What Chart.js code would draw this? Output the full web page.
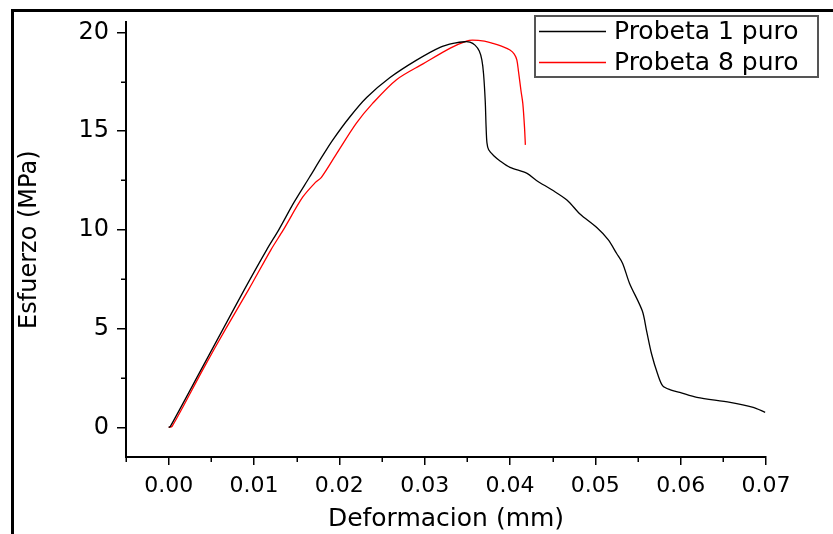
<!DOCTYPE html>
<html>
<head>
<meta charset="utf-8">
<script src="https://cdn.jsdelivr.net/npm/chart.js@4/dist/chart.umd.min.js"></script>
<style>
  html, body { margin: 0; padding: 0; background: #fff; }
  canvas { display: block; }
</style>
</head>
<body>
<canvas id="c" width="833" height="534"></canvas>
<script>
// Stress–strain curves for the two specimens
const seriesNames = ['Probeta 1 puro', 'Probeta 8 puro'];
const seriesColors = ['#000000', '#ff0000'];

const probeta1Def = [0, 0.0002, 0.0039, 0.0064, 0.0089, 0.0115, 0.0129, 0.0147, 0.0165, 0.0179, 0.0192, 0.0212, 0.0232, 0.0259, 0.0290, 0.0318, 0.0335, 0.0347, 0.0353, 0.0359, 0.0364, 0.0367, 0.0369, 0.0371, 0.0372, 0.0373, 0.0375, 0.0381, 0.0388, 0.0400, 0.0420, 0.0431, 0.0450, 0.0467, 0.0482, 0.0502, 0.0515, 0.0525, 0.0532, 0.0540, 0.0555, 0.0560, 0.0566, 0.0573, 0.0579, 0.0588, 0.0599, 0.0619, 0.0658, 0.0685, 0.0699];
const probeta1Esf = [0, 0.05, 3.0, 5.0, 7.0, 9.0, 10.0, 11.4, 12.66, 13.65, 14.53, 15.7, 16.7, 17.7, 18.58, 19.24, 19.45, 19.52, 19.5, 19.35, 19.05, 18.6, 17.9, 16.5, 15.2, 14.4, 14.05, 13.75, 13.5, 13.16, 12.86, 12.5, 12.0, 11.5, 10.8, 10.1, 9.5, 8.8, 8.3, 7.3, 5.9, 4.9, 3.7, 2.7, 2.1, 1.9, 1.77, 1.52, 1.27, 1.01, 0.76];

const probeta8Def = [0, 0.0004, 0.0041, 0.0067, 0.0094, 0.0120, 0.0134, 0.0157, 0.0172, 0.0179, 0.0197, 0.0220, 0.0239, 0.0267, 0.0298, 0.0330, 0.0349, 0.0356, 0.0370, 0.0380, 0.0390, 0.0400, 0.0405, 0.0408, 0.0410, 0.0413, 0.0415, 0.0417, 0.0418];
const probeta8Esf = [0, 0.05, 3.0, 5.0, 7.0, 9.0, 9.97, 11.65, 12.4, 12.66, 13.87, 15.4, 16.4, 17.6, 18.4, 19.2, 19.55, 19.6, 19.55, 19.44, 19.3, 19.1, 18.9, 18.6, 18.0, 17.0, 16.4, 15.2, 14.3];

// Axis ticks
const xMajorTicks = [0, 0.01, 0.02, 0.03, 0.04, 0.05, 0.06, 0.07];
const xMinorTicks = [-0.005, 0.005, 0.015, 0.025, 0.035, 0.045, 0.055, 0.065];
const yMajorTicks = [0, 5, 10, 15, 20];
const yMinorTicks = [2.5, 7.5, 12.5, 17.5];

const xTitle = 'Deformacion (mm)';
const yTitle = 'Esfuerzo (MPa)';

const FONT = 'DejaVu Sans';

function toPoints(xs, ys) { return xs.map((x, i) => ({ x: x, y: ys[i] })); }

const framePlugin = {
  id: 'frame',
  beforeDraw(chart) {
    const ctx = chart.ctx;
    ctx.save();
    ctx.fillStyle = '#ffffff';
    ctx.fillRect(0, 0, chart.width, chart.height);
    ctx.strokeStyle = '#000';
    ctx.lineWidth = 3;
    ctx.beginPath();
    ctx.moveTo(12.5, chart.height);
    ctx.lineTo(12.5, 10.5);
    ctx.lineTo(chart.width, 10.5);
    ctx.stroke();
    ctx.restore();
  }
};

const minorTickPlugin = {
  id: 'minorTicks',
  afterDraw(chart) {
    const ctx = chart.ctx;
    const xs = chart.scales.x, ys = chart.scales.y;
    const area = chart.chartArea;
    ctx.save();
    ctx.strokeStyle = '#000';
    ctx.lineWidth = 1.5;
    ctx.beginPath();
    xMinorTicks.forEach(v => {
      const px = Math.round(xs.getPixelForValue(v)) + 0.25;
      ctx.moveTo(px, area.bottom);
      ctx.lineTo(px, area.bottom + 5);
    });
    yMinorTicks.forEach(v => {
      const py = Math.round(ys.getPixelForValue(v)) + 0.25;
      ctx.moveTo(area.left, py);
      ctx.lineTo(area.left - 5, py);
    });
    ctx.stroke();
    ctx.restore();
  }
};

const legendPlugin = {
  id: 'boxLegend',
  afterDraw(chart) {
    const ctx = chart.ctx;
    const left = 535, top = 16, right = 818, bottom = 77;
    ctx.save();
    ctx.fillStyle = '#fff';
    ctx.fillRect(left, top, right - left, bottom - top);
    ctx.strokeStyle = '#555';
    ctx.lineWidth = 2;
    ctx.strokeRect(left, top, right - left, bottom - top);
    ctx.font = '25px "' + FONT + '"';
    ctx.textBaseline = 'middle';
    ctx.textAlign = 'left';
    chart.data.datasets.forEach((ds, i) => {
      const y = 31.5 + i * 31;
      ctx.strokeStyle = ds.borderColor;
      ctx.lineWidth = 1.3;
      ctx.beginPath();
      ctx.moveTo(539, y);
      ctx.lineTo(606, y);
      ctx.stroke();
      ctx.fillStyle = '#000';
      ctx.fillText(ds.label, 614, y + 1);
    });
    ctx.restore();
  }
};

new Chart(document.getElementById('c'), {
  type: 'line',
  data: {
    datasets: [
      { label: seriesNames[0], data: toPoints(probeta1Def, probeta1Esf), borderColor: seriesColors[0], borderWidth: 1.3, borderJoinStyle: 'round', pointRadius: 0, tension: 0.3, fill: false },
      { label: seriesNames[1], data: toPoints(probeta8Def, probeta8Esf), borderColor: seriesColors[1], borderWidth: 1.3, borderJoinStyle: 'round', pointRadius: 0, tension: 0.3, fill: false }
    ]
  },
  options: {
    responsive: false,
    animation: false,
    devicePixelRatio: 1,
    layout: { padding: { left: 15, top: 22, right: 67, bottom: 0 } },
    plugins: { legend: { display: false }, tooltip: { enabled: false } },
    scales: {
      x: {
        type: 'linear',
        min: -0.005, max: 0.07,
        afterBuildTicks(scale) { scale.ticks = xMajorTicks.map(v => ({ value: v })); },
        afterFit(scale) { scale.height = 77; },
        border: { display: true, color: '#000', width: 2 },
        grid: { drawOnChartArea: false, drawTicks: true, tickLength: 8, color: '#000', lineWidth: 1.5 },
        ticks: {
          color: '#000', padding: 8, maxRotation: 0, autoSkip: false,
          font: { family: FONT, size: 22 },
          callback: v => v.toFixed(2)
        },
        title: { display: true, text: xTitle, color: '#000', font: { family: FONT, size: 25, lineHeight: 1.2 }, padding: { top: 0, bottom: 0 } }
      },
      y: {
        type: 'linear',
        min: -1.5, max: 20.5,
        afterBuildTicks(scale) { scale.ticks = yMajorTicks.map(v => ({ value: v })); },
        afterFit(scale) { scale.width = 111; },
        border: { display: true, color: '#000', width: 2 },
        grid: { drawOnChartArea: false, drawTicks: true, tickLength: 9, color: '#000', lineWidth: 1.5 },
        ticks: {
          color: '#000', padding: 8, autoSkip: false,
          font: { family: FONT, size: 24 },
          callback: v => String(v)
        },
        title: { display: true, text: yTitle, color: '#000', font: { family: FONT, size: 24, lineHeight: 1.2 }, padding: { top: 0, bottom: 0 } }
      }
    }
  },
  plugins: [framePlugin, minorTickPlugin, legendPlugin]
});
</script>
</body>
</html>
